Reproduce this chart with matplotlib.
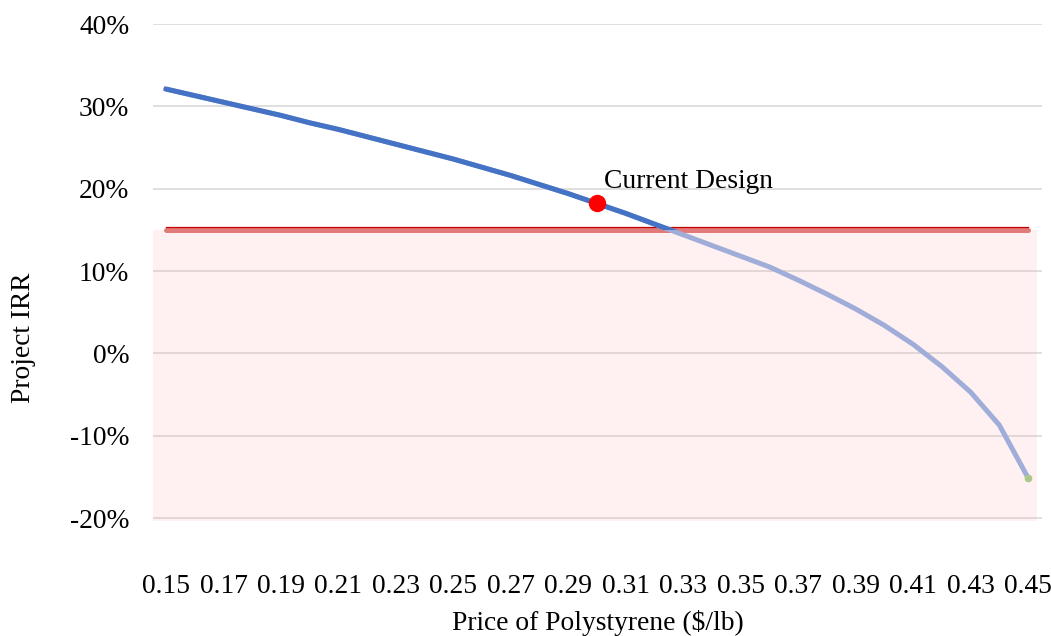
import matplotlib
matplotlib.use('Agg')
import matplotlib.pyplot as plt
from matplotlib.patches import Rectangle
from matplotlib.ticker import FixedLocator, FuncFormatter

# polystyrene price ($/lb) vs project IRR (%)
price = [0.15, 0.16, 0.17, 0.18, 0.19, 0.20, 0.21, 0.22, 0.23, 0.24,
         0.25, 0.26, 0.27, 0.28, 0.29, 0.30, 0.31, 0.32, 0.33, 0.34,
         0.35, 0.36, 0.37, 0.38, 0.39, 0.40, 0.41, 0.42, 0.43, 0.44, 0.45]
irr = [32.1, 31.3, 30.5, 29.7, 28.9, 28.0, 27.2, 26.3, 25.4, 24.5,
       23.6, 22.6, 21.6, 20.5, 19.4, 18.2, 17.0, 15.7, 14.4, 13.1,
       11.8, 10.5, 8.9, 7.2, 5.4, 3.4, 1.1, -1.6, -4.7, -8.7, -15.1]
hurdle = 15.0
current_price = 0.30
current_irr = 18.2
tick_prices = [0.15, 0.17, 0.19, 0.21, 0.23, 0.25, 0.27, 0.29, 0.31,
               0.33, 0.35, 0.37, 0.39, 0.41, 0.43, 0.45]
y_ticks = [-20, -10, 0, 10, 20, 30, 40]

plt.rcParams['font.family'] = ['Liberation Serif', 'DejaVu Serif']
FS = 19.8

fig = plt.figure(figsize=(10.51, 6.36), dpi=100)
ax = fig.add_axes([153 / 1051, 115 / 636, 889 / 1051, 497 / 636])

ax.set_xlim(0.14548, 0.45487)
ax.set_ylim(-20.36, 40)

for y in y_ticks:
    ax.axhline(y, color='#D9D9D9', lw=1.2, zorder=1)

# region below the hurdle rate
ax.axhspan(-20.36, hurdle, xmin=0, xmax=0.9944, color='#FF9A9A', alpha=0.13,
           lw=0, zorder=2)
ax.plot([price[0], price[-1]], [hurdle, hurdle], color='#E27A7A', lw=3.6,
        solid_capstyle='round', zorder=3)
ax.plot([price[0], price[-1]], [hurdle + 0.3, hurdle + 0.3], color='#C00000',
        lw=0.9, zorder=3)

# IRR curve: faded below the hurdle, solid above
ax.plot(price, irr, color='#9FADD8', lw=3.6, solid_joinstyle='round', zorder=4)
dark, = ax.plot(price, irr, color='#4472C4', lw=3.6, solid_capstyle='round',
                solid_joinstyle='round', zorder=5)
dark.set_clip_path(Rectangle((0, hurdle), 1, 100,
                             transform=ax.get_yaxis_transform()))
ax.plot(price[-1], irr[-1], 'o', color='#A9C98A', ms=4.5, zorder=6)

ax.plot(current_price, current_irr, 'o', color='#FF0000', ms=11.5, zorder=7)
t = ax.text(current_price + 0.0025, 20.1, 'Current Design', fontsize=FS,
            ha='left', va='baseline', zorder=8)
t.set_clip_path(Rectangle((0, 19.9), 1, 100,
                          transform=ax.get_yaxis_transform()))

ax.xaxis.set_major_locator(FixedLocator(tick_prices))
ax.xaxis.set_major_formatter(FuncFormatter(lambda v, p: f'{v:.2f}'))
ax.yaxis.set_major_locator(FixedLocator(y_ticks))
ax.yaxis.set_major_formatter(FuncFormatter(lambda v, p: f'{v:.0f}%'))
ax.tick_params(axis='both', length=0, labelsize=FS)
ax.tick_params(axis='y', pad=17)
ax.tick_params(axis='x', pad=38)

ax.set_xlabel('Price of Polystyrene ($/lb)', fontsize=FS, labelpad=8)
ax.set_ylabel('Project IRR', fontsize=FS, va='center')
ax.yaxis.set_label_coords(-130 / 889, (636 - 115 - 338) / 497)

for s in ax.spines.values():
    s.set_visible(False)

fig.savefig('out.png', dpi=100)
